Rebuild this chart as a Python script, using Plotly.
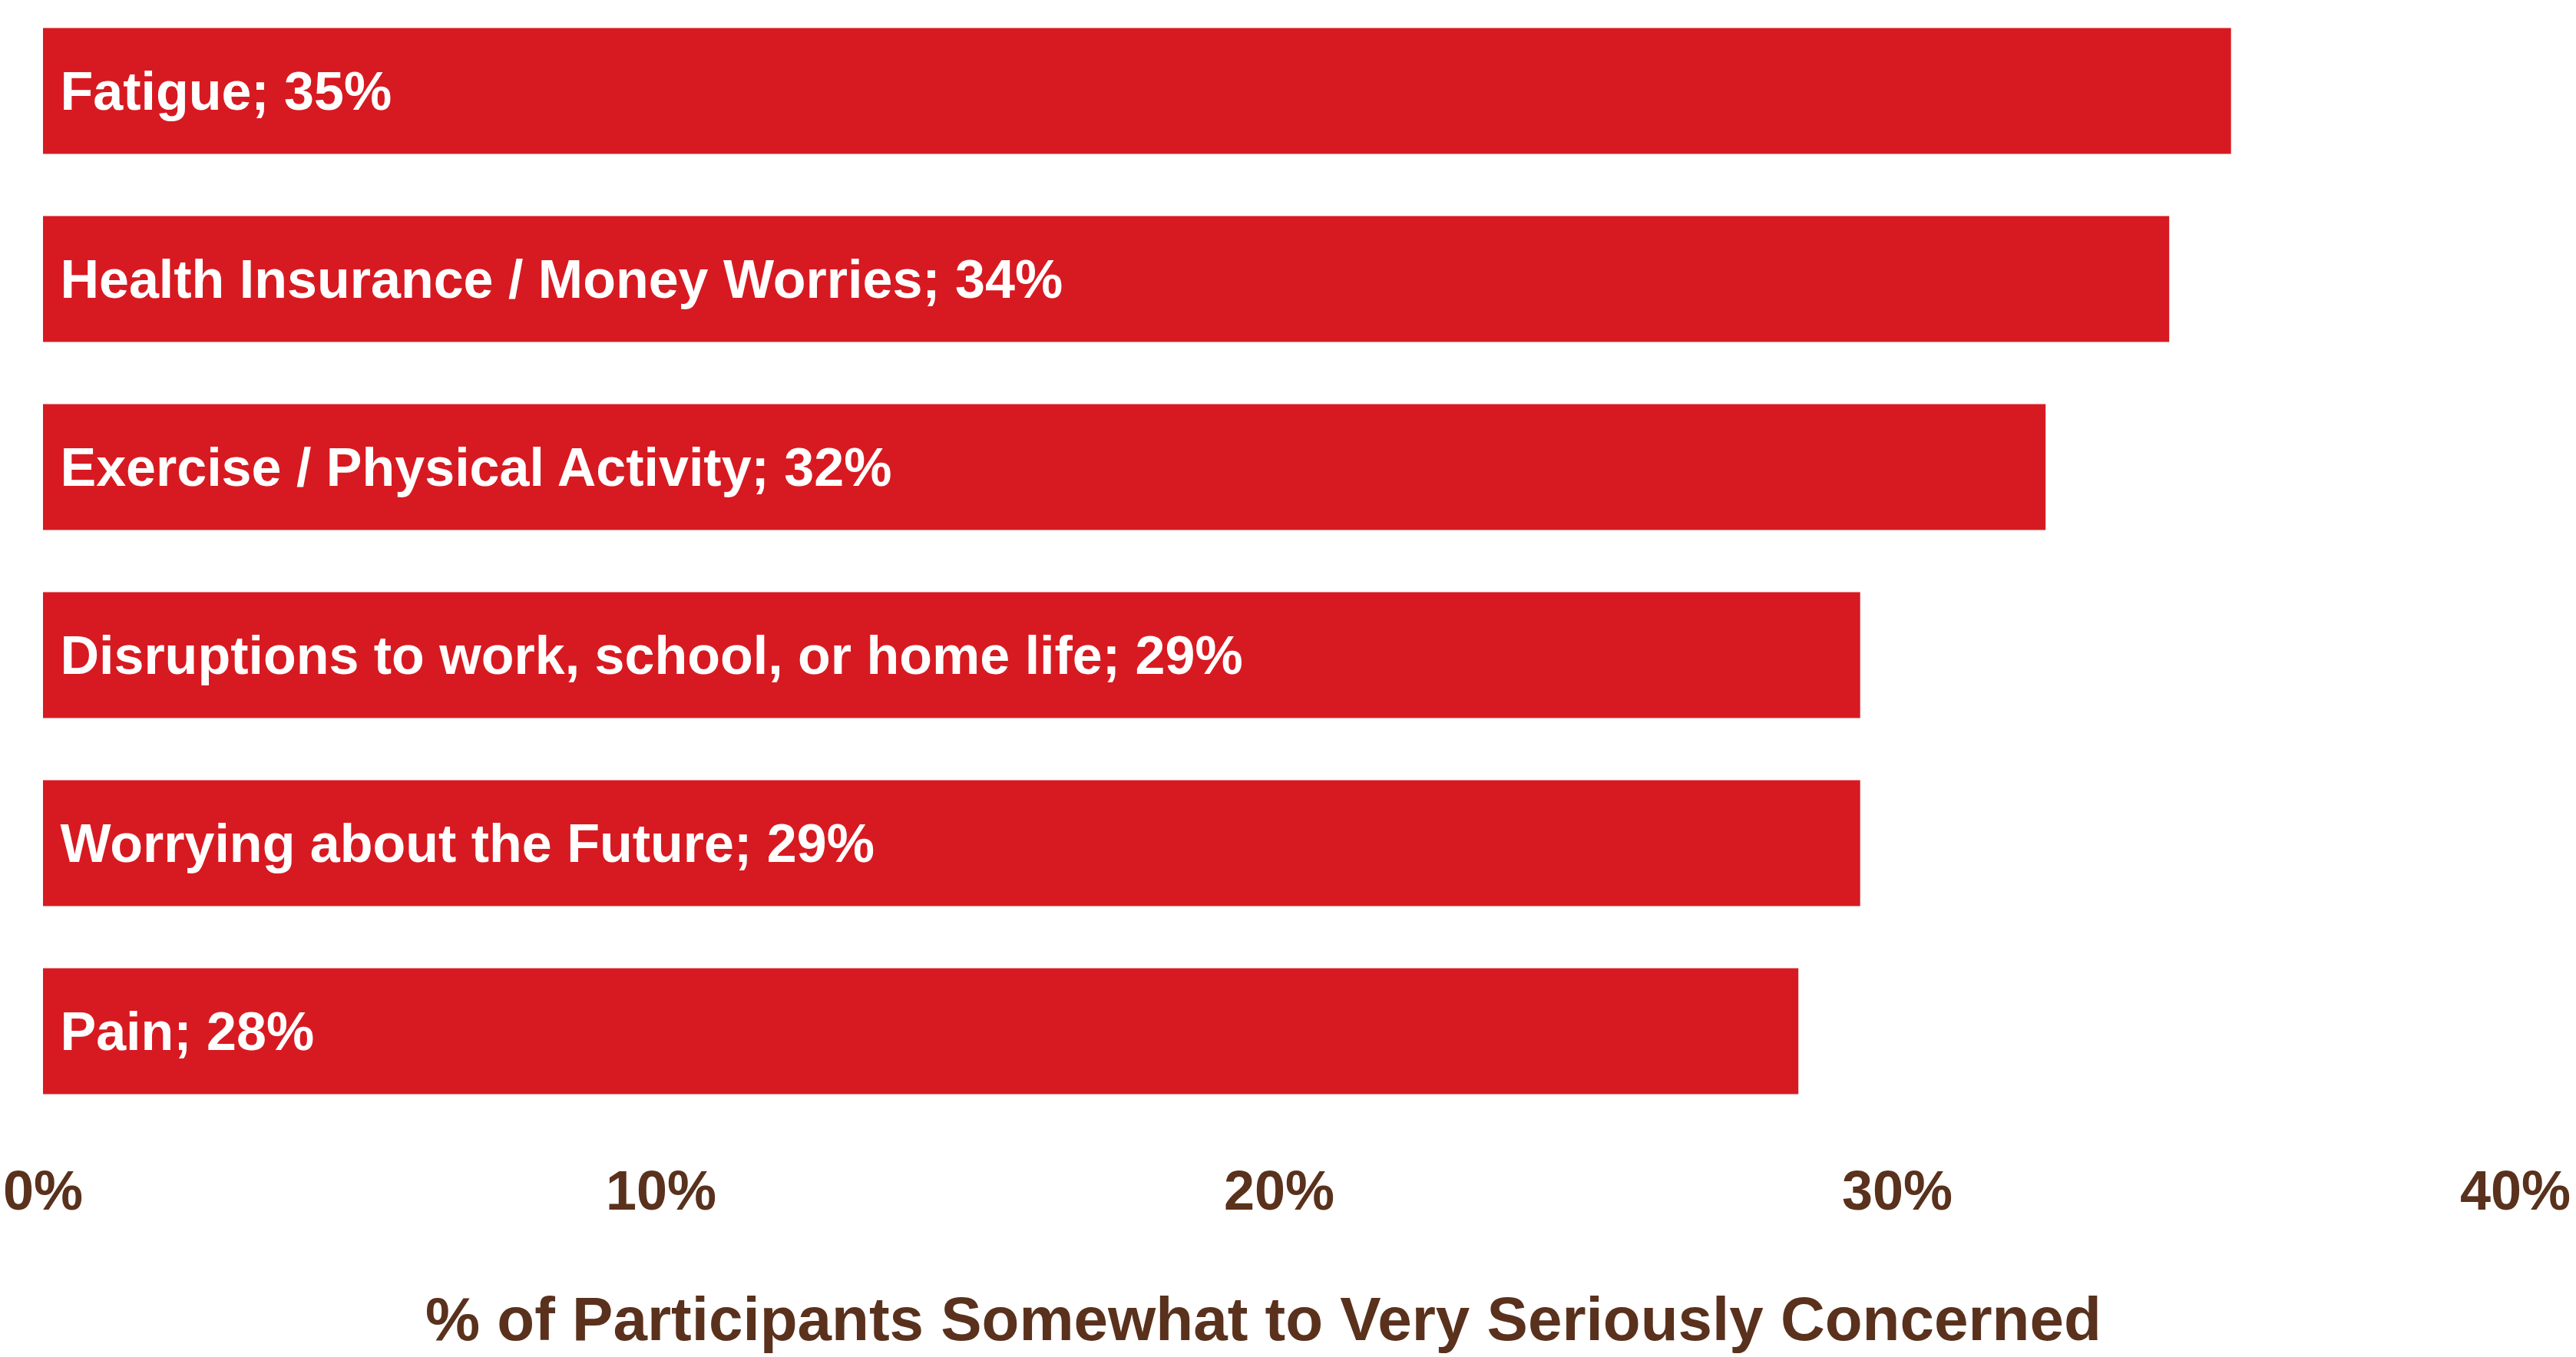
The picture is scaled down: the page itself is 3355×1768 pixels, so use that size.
import plotly.graph_objects as go

categories = [
    "Fatigue",
    "Health Insurance / Money Worries",
    "Exercise / Physical Activity",
    "Disruptions to work, school, or home life",
    "Worrying about the Future",
    "Pain",
]
values = [35.4, 34.4, 32.4, 29.4, 29.4, 28.4]
value_labels = ["35%", "34%", "32%", "29%", "29%", "28%"]
tick_vals = [0, 10, 20, 30, 40]
tick_text = ["0%", "10%", "20%", "30%", "40%"]
x_title = "% of Participants Somewhat to Very Seriously Concerned"

RED = "#D71A21"
BROWN = "#59311C"
FONT = "Liberation Sans, Arial, sans-serif"

bar_text = ["\u00a0" + c + "; " + v for c, v in zip(categories, value_labels)]

fig = go.Figure(
    go.Bar(
        x=values,
        y=categories,
        orientation="h",
        marker=dict(color=RED, line=dict(width=0)),
        text=bar_text,
        textposition="inside",
        insidetextanchor="start",
        textfont=dict(family=FONT, size=70, color="white", weight="bold"),
        constraintext="none",
        cliponaxis=False,
        hoverinfo="skip",
    )
)

W, H = 3355, 1768
ml, mr, mt, mb = 56, 79, 0, 298

fig.update_layout(
    width=W,
    height=H,
    margin=dict(l=ml, r=mr, t=mt, b=mb),
    paper_bgcolor="white",
    plot_bgcolor="white",
    bargap=0.331,
    showlegend=False,
    font=dict(family=FONT),
    uniformtext=dict(mode=False),
)

a = 4 / 245
fig.update_yaxes(
    type="category",
    categoryorder="array",
    categoryarray=categories,
    range=[5.5 + a, -0.5 + a],
    showticklabels=False,
    showgrid=False,
    zeroline=False,
    showline=False,
    ticks="",
)
fig.update_xaxes(
    range=[0, 40],
    tickvals=tick_vals,
    ticktext=tick_text,
    tickfont=dict(family=FONT, size=72, color=BROWN, weight="bold"),
    showgrid=False,
    zeroline=False,
    showline=False,
    ticks="",
    ticklabelstandoff=33,
)

plot_w = W - ml - mr
plot_h = H - mt - mb
fig.add_annotation(
    text=x_title,
    xref="paper",
    yref="paper",
    x=(1645 - ml) / plot_w,
    y=(plot_h - 1718) / plot_h,
    xanchor="center",
    yanchor="middle",
    showarrow=False,
    font=dict(family=FONT, size=80, color=BROWN, weight="bold"),
)

fig.write_html("out.html")
